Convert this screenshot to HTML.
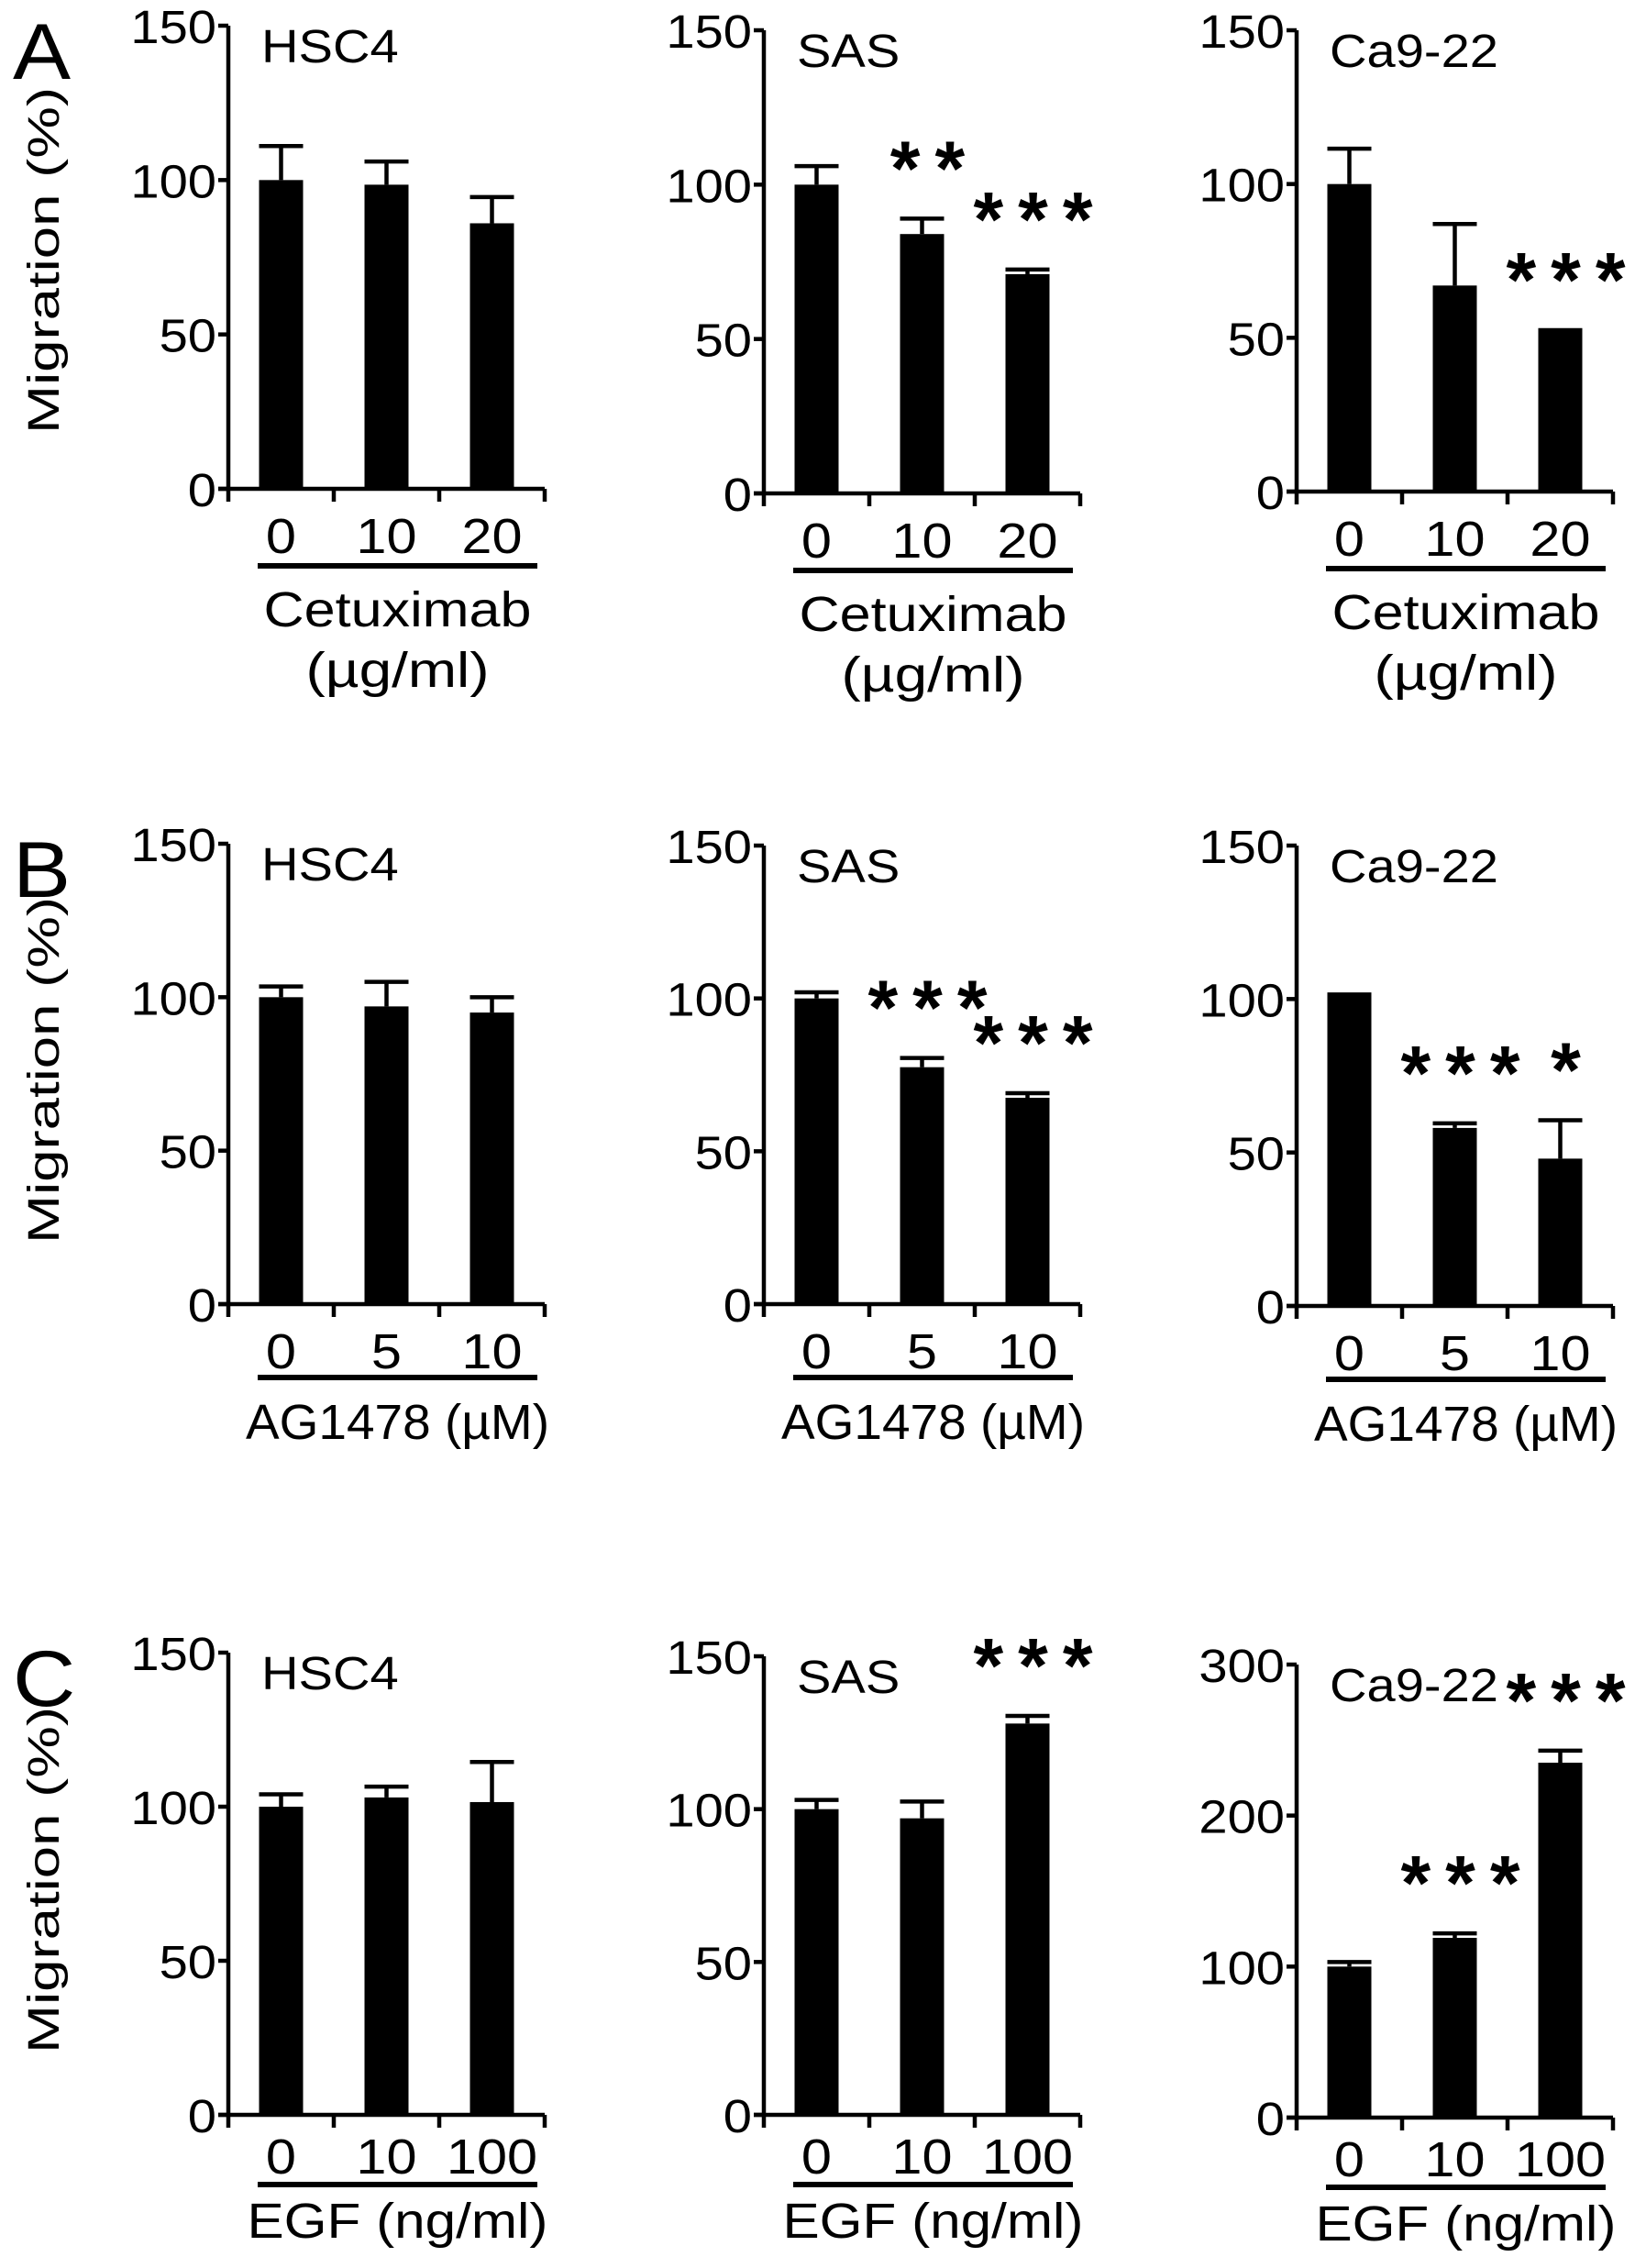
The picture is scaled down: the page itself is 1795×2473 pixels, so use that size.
<!DOCTYPE html>
<html><head><meta charset="utf-8">
<style>
html,body{margin:0;padding:0;background:#fff;}
svg{display:block;}
text{font-family:"Liberation Sans",Arial,sans-serif;fill:#000;}
</style></head>
<body>
<svg id="fig" width="1795" height="2473" viewBox="0 0 1795 2473" xmlns="http://www.w3.org/2000/svg"></svg>
<script>
// ---- data ----
const panelCells = ["HSC4","SAS","Ca9-22","HSC4","SAS","Ca9-22","HSC4","SAS","Ca9-22"];
const rowDoses = [["0","10","20"],["0","5","10"],["0","10","100"]];
const rowDrugs = [["Cetuximab","(µg/ml)"],["AG1478 (µM)"],["EGF (ng/ml)"]];
const rowLetters = ["A","B","C"];
const panelMax = [150,150,150,150,150,150,150,150,300];
const panelTickStep = [50,50,50,50,50,50,50,50,100];
const means = [
  [100,98.5,86],[100,84,71],[100,67,52],
  [100,97,95],[100,77.5,67.5],[101,58,48],
  [100,103,101.5],[100,97,128],[100,119,235]
];
const errs = [
  [111,106,94.5],[106,89,72.5],[111.5,87,52.5],
  [103.5,105,100],[102,80.5,69],[101.5,59.5,60.5],
  [104,106.5,114.5],[103,102.5,130.5],[103,122,243]
];
const stars = [
  [null,null,null],[null,"**","***"],[null,null,"***"],
  [null,null,null],[null,"***","***"],[null,"***","*"],
  [null,null,null],[null,null,"***"],[null,"***","***"]
];

// ---- layout ----
const colX = [249, 833, 1414];
const rowTop = [[28,33,33],[920,922,922],[1802,1806,1815]];
const rowBottom = [[533,538,536],[1422,1422,1424],[2306,2306,2309]];
const SPAN = 345;
const drugWidths = [[292,200],[331],[328]];
const NS = "http://www.w3.org/2000/svg";
const svg = document.getElementById('fig');

function el(tag, attrs, parent){
  const e = document.createElementNS(NS, tag);
  for (const k in attrs) e.setAttribute(k, attrs[k]);
  (parent||svg).appendChild(e);
  return e;
}
function txt(str, attrs, parent, stretch){
  const t = el('text', attrs, parent);
  t.textContent = str;
  if (stretch){
    const w = t.getComputedTextLength();
    t.setAttribute('textLength', (w*stretch).toFixed(1));
    t.setAttribute('lengthAdjust','spacingAndGlyphs');
  }
  return t;
}

for (let r=0;r<3;r++){
  const L = txt(rowLetters[r], {x:14, y:[86,978,1860][r], 'font-size':86}, svg, 1.1);
  
  
  const cy = [284,1167,2050][r];
  const yl = txt("Migration (%)", {x:0,y:0,'font-size':48,'text-anchor':'middle',
    transform:`translate(64,${cy}) rotate(-90)`}, svg);
  yl.setAttribute('textLength','378');
  yl.setAttribute('lengthAdjust','spacingAndGlyphs');
  
  

  for (let c=0;c<3;c++){
    const p = r*3+c;
    const g = el('g', {});
    
    
    const x0 = colX[c], top = rowTop[r][c], bot = rowBottom[r][c];
    const max = panelMax[p];
    const yS = v => bot - (v/max)*(bot-top);
    const band = SPAN/3;
    const xC = i => x0 + band*(i+0.5);
    const bw = 48;

    const ya = el('line',{x1:x0,y1:top,x2:x0,y2:bot+14,stroke:'#000','stroke-width':4.5},g);
    
    
    const xa = el('line',{x1:x0-11,y1:bot,x2:x0+SPAN,y2:bot,stroke:'#000','stroke-width':4.5},g);
    
    
    for (let i=1;i<=3;i++){
      const xt = el('line',{x1:x0+band*i,y1:bot,x2:x0+band*i,y2:bot+14,stroke:'#000','stroke-width':4.5},g);
      
      
    }
    for (let v=0; v<=max; v+=panelTickStep[p]){
      const yy = yS(v);
      const tk = el('line',{x1:x0-11,y1:yy,x2:x0,y2:yy,stroke:'#000','stroke-width':4.5},g);
      
      
      const tl = txt(String(v),{x:x0-13,y:yy+19,'font-size':51,'text-anchor':'end'},g,1.1);
      
      
    }
    const tt = txt(panelCells[p],{x:x0+36,y:top+40,'font-size':51},g,1.1);
    
    

    for (let i=0;i<3;i++){
      const cx = xC(i);
      const b = el('rect',{x:cx-bw/2,y:yS(means[p][i]),width:bw,height:bot-yS(means[p][i]),fill:'#000'},g);
      
      
      const ey = yS(errs[p][i]);
      const e1 = el('line',{x1:cx,y1:yS(means[p][i]),x2:cx,y2:ey,stroke:'#000','stroke-width':4.5},g);
      
      
      const e2 = el('line',{x1:cx-bw/2,y1:ey,x2:cx+bw/2,y2:ey,stroke:'#000','stroke-width':4.5},g);
      
      
      if (stars[p][i]){
        const s = txt(stars[p][i],{x:cx+14,y:ey-26,'font-size':84,'font-weight':'bold','text-anchor':'middle','letter-spacing':16},g);
        
        
      }
      const dl = txt(rowDoses[r][i],{x:cx,y:bot+[70,70,64][r],'font-size':54,'text-anchor':'middle'},g,1.1);
      
      
    }
    const uy = bot + [84,80,76][r];
    const ul = el('line',{x1:x0+32,y1:uy,x2:x0+SPAN-8,y2:uy,stroke:'#000','stroke-width':6},g);
    
    
    const mid = x0+32+(SPAN-40)/2;
    const lines = rowDrugs[r];
    const offs = r===0 ? [150,216] : [r===1?147:134];
    lines.forEach((s,k)=>{
      const dt = txt(s,{x:mid,y:bot+offs[k],'font-size':54,'text-anchor':'middle'},g);
      dt.setAttribute('textLength', drugWidths[r][k]);
      dt.setAttribute('lengthAdjust','spacingAndGlyphs');
      
      
    });
  }
}
</script>
</body></html>
